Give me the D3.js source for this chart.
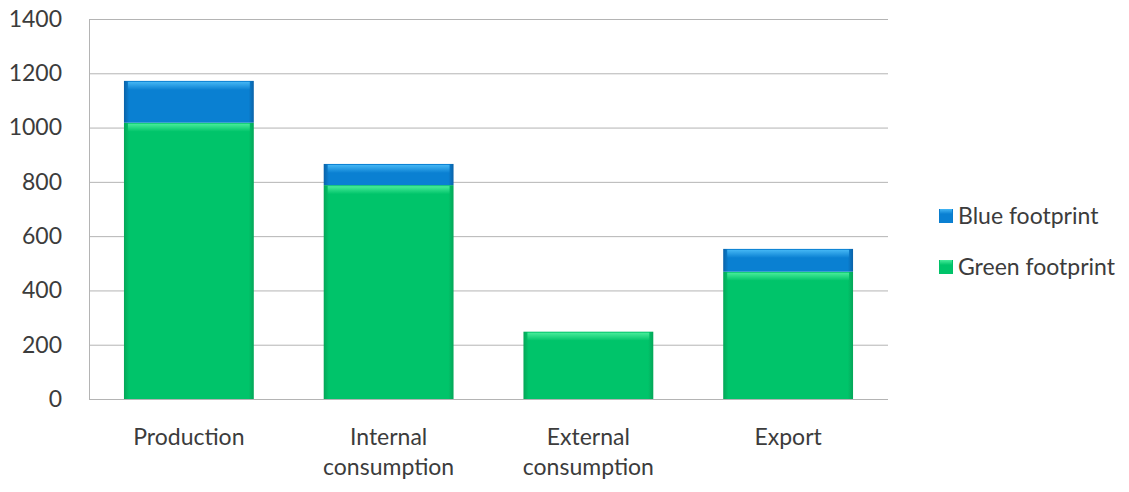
<!DOCTYPE html>
<html><head><meta charset="utf-8">
<script src="https://cdn.jsdelivr.net/npm/d3@7"></script>
<style>body{margin:0;background:#fff;} svg{display:block;}</style>
</head><body>
<svg id="c" width="1129" height="492"></svg>
<script>
const categories = ["Production", "Internal consumption", "External consumption", "Export"];
const categoryLines = [["Production"], ["Internal", "consumption"], ["External", "consumption"], ["Export"]];
const greenFootprint = [1018, 788, 248, 469];
const blueFootprint = [154, 78, 0, 84];
const yTicks = [0, 200, 400, 600, 800, 1000, 1200, 1400];
const seriesNames = ["Blue footprint", "Green footprint"];

const FONT = "Lato, 'Open Sans', sans-serif";
const FS = 23;
const TXT = "#3c3c3c";
const svg = d3.select("#c");
const m = {l: 89, r: 241, t: 19, b: 93};
const W = 1129, H = 492;
const x = d3.scaleBand().domain(categories).range([m.l, W - m.r]).paddingInner(0.35).paddingOuter(0.175);
const y = d3.scaleLinear().domain([0, 1400]).range([H - m.b, m.t]);

const defs = svg.append("defs");
function grad(id, edge, mid) {
  const g = defs.append("linearGradient").attr("id", id).attr("x1", 0).attr("x2", 1).attr("y1", 0).attr("y2", 0);
  g.append("stop").attr("offset", "0%").attr("stop-color", edge);
  g.append("stop").attr("offset", "4%").attr("stop-color", mid);
  g.append("stop").attr("offset", "96%").attr("stop-color", mid);
  g.append("stop").attr("offset", "100%").attr("stop-color", edge);
}
grad("gGreen", "#05a658", "#00c46a");
grad("gBlue", "#0a62a8", "#0a80d2");
function topGrad(id, light) {
  const g = defs.append("linearGradient").attr("id", id).attr("x1", 0).attr("x2", 0).attr("y1", 0).attr("y2", 1);
  g.append("stop").attr("offset", "0%").attr("stop-color", light);
  g.append("stop").attr("offset", "100%").attr("stop-color", light).attr("stop-opacity", 0);
}
topGrad("tGreen", "#48ec9a");
topGrad("tBlue", "#44b6f4");

// grid
svg.append("g").selectAll("line").data(yTicks).join("line")
  .attr("x1", m.l).attr("x2", W - m.r)
  .attr("y1", d => y(d) + 0.5).attr("y2", d => y(d) + 0.5)
  .attr("stroke", "#b4b4b4").attr("stroke-width", 1);
svg.append("line").attr("x1", m.l + 0.5).attr("x2", m.l + 0.5).attr("y1", y(1400)).attr("y2", y(0))
  .attr("stroke", "#b4b4b4");

// y axis labels
const yAxis = d3.axisLeft(y).tickValues(yTicks).tickFormat(d3.format("d")).tickSize(0).tickPadding(27);
const ya = svg.append("g").attr("transform", `translate(${m.l},0)`).call(yAxis);
ya.select(".domain").remove();
ya.selectAll("text").attr("font-family", FONT).attr("font-size", FS).attr("fill", TXT);

// bars
function drawBar(g, x0, w, y0, y1, fillId, topId) {
  const h = y0 - y1;
  if (h <= 0) return;
  g.append("rect").attr("x", x0).attr("y", y1).attr("width", w).attr("height", h).attr("fill", `url(#${fillId})`);
  g.append("rect").attr("x", x0 + 4).attr("y", y1 + 1).attr("width", w - 8).attr("height", Math.min(8, h - 1)).attr("fill", `url(#${topId})`);
}
const bars = svg.append("g");
categories.forEach((c, i) => {
  const x0 = x(c), w = x.bandwidth();
  const g = bars.append("g");
  drawBar(g, x0, w, y(0), y(greenFootprint[i]), "gGreen", "tGreen");
  drawBar(g, x0, w, y(greenFootprint[i]), y(greenFootprint[i] + blueFootprint[i]), "gBlue", "tBlue");
});

// x labels
const xl = svg.append("g");
categories.forEach((c, i) => {
  const cx = x(c) + x.bandwidth() / 2;
  const t = xl.append("text").attr("x", cx).attr("y", 445)
    .attr("text-anchor", "middle").attr("font-family", FONT)
    .attr("font-size", FS).attr("fill", TXT);
  categoryLines[i].forEach((s, j) => t.append("tspan").attr("x", cx).attr("dy", j ? 30 : 0).text(s));
});

// legend
const leg = svg.append("g");
const legColors = [["gBlue", "tBlue"], ["gGreen", "tGreen"]];
seriesNames.forEach((s, i) => {
  const ly = 216 + i * 51;
  leg.append("rect").attr("x", 939).attr("y", ly - 7).attr("width", 14).attr("height", 14).attr("fill", `url(#${legColors[i][0]})`);
  leg.append("rect").attr("x", 940).attr("y", ly - 7).attr("width", 12).attr("height", 5).attr("fill", `url(#${legColors[i][1]})`);
  leg.append("text").attr("x", 958).attr("y", ly).attr("dy", "0.35em")
    .attr("font-family", FONT).attr("font-size", FS).attr("fill", TXT).text(s);
});
</script>
</body></html>
